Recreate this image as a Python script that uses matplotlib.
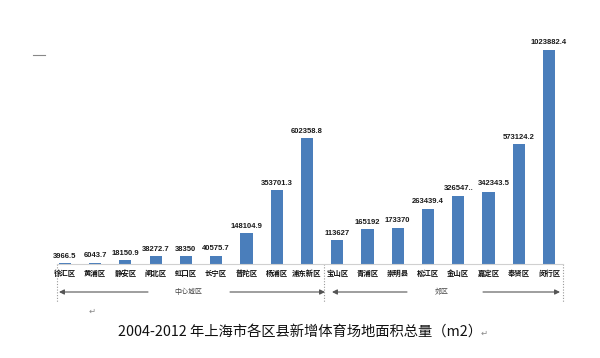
import matplotlib
matplotlib.use("Agg")
import matplotlib.pyplot as plt
from matplotlib.transforms import blended_transform_factory
from matplotlib import font_manager

plt.rcParams['font.family'] = ['Noto Sans CJK SC', 'DejaVu Sans']

districts = ['徐汇区', '黄浦区', '静安区', '闸北区', '虹口区', '长宁区', '普陀区', '杨浦区', '浦东新区',
             '宝山区', '青浦区', '崇明县', '松江区', '金山区', '嘉定区', '奉贤区', '闵行区']
areas = [3966.5, 6043.7, 18150.9, 38272.7, 38350, 40575.7, 148104.9, 353701.3, 602358.8,
         113627, 165192, 173370, 263439.4, 326547.5, 342343.5, 573124.2, 1023882.4]
value_labels = ['3966.5', '6043.7', '18150.9', '38272.7', '38350', '40575.7', '148104.9', '353701.3', '602358.8',
                '113627', '165192', '173370', '263439.4', '326547..', '342343.5', '573124.2', '1023882.4']
groups = ['中心城区', '郊区']
title = '2004-2012 年上海市各区县新增体育场地面积总量（m2）'

names = {f.name for f in font_manager.fontManager.ttflist}
num_font = ['Liberation Sans Narrow'] if 'Liberation Sans Narrow' in names else ['Liberation Sans']

W, H = 600, 358
fig = plt.figure(figsize=(6, 3.58), dpi=100)
ax = fig.add_axes([57 / W, (H - 264) / H, (563 - 57) / W, 230 / H])

x = list(range(len(districts)))
ax.bar(x, areas, width=0.4, color='#4a7ebb', zorder=2)
ax.set_xlim(-0.26, 16.46)
ax.set_ylim(0, 1.1e6)
for s in ['top', 'right', 'left']:
    ax.spines[s].set_visible(False)
ax.spines['bottom'].set_color('#d0d0d0')
ax.spines['bottom'].set_linewidth(0.8)
ax.set_yticks([])
ax.set_xticks(x)
ax.set_xticklabels(districts, fontsize=5.3, fontweight='bold', color='#111111')
ax.tick_params(axis='x', length=0, pad=4)

fs_num = 6.3 if num_font[0] == 'Liberation Sans Narrow' else 5.5
for xi, v, lab in zip(x, areas, value_labels):
    dx = 4 if lab == '342343.5' else 0
    dy = 4 if lab == '342343.5' else 2.5
    ax.annotate(lab, (xi, v), xytext=(dx, dy), textcoords='offset points',
                ha='center', va='bottom', fontsize=fs_num, fontweight='bold', color='#1a1a1a',
                family=num_font)

# dotted separators below the axis
tr = blended_transform_factory(ax.transData, fig.transFigure)
for xd in [-0.26, 8.56, 16.46]:
    ax.plot([xd, xd], [(H - 264) / H, (H - 302) / H], transform=tr, clip_on=False,
            color='#999999', linestyle=(0, (1, 1.5)), linewidth=0.8)

# group arrows and labels
ya = (H - 292) / H
def arrow(x0, x1):
    fig.patches.append(matplotlib.patches.FancyArrowPatch(
        (x0 / W, ya), (x1 / W, ya), transform=fig.transFigure,
        arrowstyle='-|>,head_length=3,head_width=1.5', color='#555555', linewidth=0.8,
        shrinkA=0, shrinkB=0))
arrow(148, 59)
arrow(230, 325)
arrow(407, 332)
arrow(483, 560)
fig.text(188 / W, ya, groups[0], ha='center', va='center', fontsize=5, color='#444444')
fig.text(442 / W, ya, groups[1], ha='center', va='center', fontsize=5, color='#444444')

fig.text(300 / W, (H - 332) / H, title, ha='center', va='center', fontsize=10.3, color='#111111')
fig.text(481 / W, (H - 333) / H, '↵', ha='left', va='center', fontsize=6, color='#888888',
         family='DejaVu Sans')
fig.text(92 / W, (H - 311) / H, '↵', ha='center', va='center', fontsize=6, color='#888888',
         family='DejaVu Sans')
fig.lines.append(matplotlib.lines.Line2D([33 / W, 45 / W], [(H - 55) / H] * 2,
                                         transform=fig.transFigure, color='#888888', linewidth=0.8))

fig.savefig('out.png', dpi=100, facecolor='white')
